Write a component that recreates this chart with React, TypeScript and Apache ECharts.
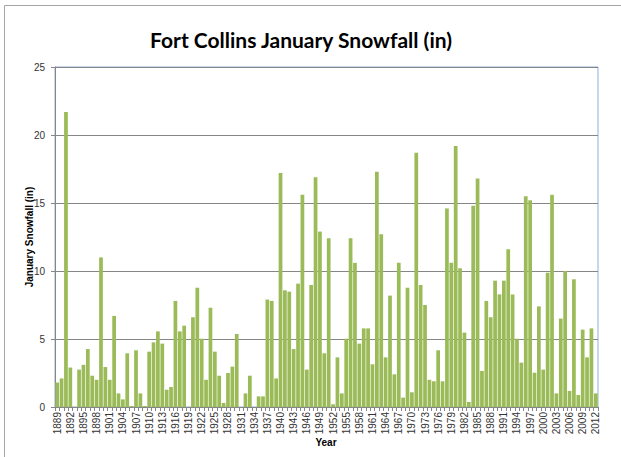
import React, { useEffect, useRef } from "react";
import * as echarts from "echarts";

const years: string[] = [];
for (let y = 1889; y <= 2012; y++) years.push(String(y));

const snowfall = [
  1.8, 2.1, 21.7, 2.9, 0, 2.75, 3.1, 4.26, 2.3, 2.0,
  11.0, 2.94, 2.0, 6.7, 1.0, 0.56, 3.95, 0.07, 4.17, 1.0,
  0.07, 4.07, 4.75, 5.56, 4.66, 1.27, 1.47, 7.8, 5.56, 5.98,
  0, 6.6, 8.77, 5.02, 2.0, 7.3, 4.07, 2.3, 0.3, 2.5,
  2.97, 5.37, 0, 1.0, 2.3, 0, 0.78, 0.78, 7.9, 7.8,
  2.1, 17.2, 8.58, 8.48, 4.26, 9.07, 15.6, 2.75, 8.97, 16.9,
  12.9, 3.95, 12.4, 0.2, 3.65, 1.0, 5.02, 12.4, 10.6, 4.66,
  5.78, 5.78, 3.14, 17.3, 12.7, 3.65, 8.19, 2.4, 10.6, 0.69,
  8.77, 1.08, 18.7, 8.97, 7.5, 2.0, 1.89, 4.17, 1.89, 14.6,
  10.6, 19.2, 10.2, 5.47, 0.37, 14.8, 16.8, 2.65, 7.8, 6.6,
  9.29, 8.28, 9.29, 11.6, 8.28, 5.02, 3.26, 15.5, 15.2, 2.52,
  7.4, 2.75, 9.88, 15.6, 1.0, 6.5, 10.0, 1.18, 9.39, 0.88,
  5.69, 3.65, 5.78, 1.0,
];

const titleText = "Fort Collins January Snowfall (in)";
const yAxisName = "January Snowfall (in)";
const xAxisName = "Year";

export default function App() {
  const ref = useRef<HTMLDivElement>(null);
  useEffect(() => {
    if (!ref.current) return;
    const chart = echarts.init(ref.current, null, { renderer: "svg" });
    chart.setOption({
      animation: false,
      backgroundColor: "#ffffff",
      title: {
        text: titleText,
        left: 296,
        top: 24,
        textAlign: "center",
        textStyle: {
          fontFamily: "Lato",
          fontWeight: "bold",
          fontSize: 21,
          color: "#000000",
        },
      },
      graphic: [
        {
          type: "line",
          shape: { x1: 4.5, y1: 5.5, x2: 621, y2: 5.5 },
          style: { stroke: "#a6a6a6", lineWidth: 1 },
        },
        {
          type: "line",
          shape: { x1: 4.5, y1: 5.5, x2: 4.5, y2: 457 },
          style: { stroke: "#a6a6a6", lineWidth: 1 },
        },
        {
          type: "text",
          x: 29,
          y: 237,
          rotation: Math.PI / 2,
          style: {
            text: yAxisName,
            fontFamily: "Liberation Sans",
            fontWeight: "bold",
            fontSize: 10,
            fill: "#000000",
            align: "center",
            verticalAlign: "middle",
          },
        },
        {
          type: "text",
          x: 326,
          y: 442,
          style: {
            text: xAxisName,
            fontFamily: "Liberation Sans",
            fontWeight: "bold",
            fontSize: 10,
            fill: "#000000",
            align: "center",
            verticalAlign: "middle",
          },
        },
      ],
      grid: {
        left: 55,
        right: 23,
        top: 67,
        bottom: 50,
        show: true,
        borderColor: "#8fb0dd",
        borderWidth: 1,
      },
      xAxis: {
        type: "category",
        data: years,
        axisLine: { lineStyle: { color: "#868686" } },
        axisTick: {
          show: true,
          interval: 0,
          length: 4,
          lineStyle: { color: "#868686" },
        },
        axisLabel: {
          interval: 2,
          rotate: 90,
          fontSize: 10,
          fontFamily: "Liberation Sans",
          color: "#333333",
          margin: 5,
        },
      },
      yAxis: {
        type: "value",
        min: 0,
        max: 25,
        interval: 5,
        axisLine: { show: true, lineStyle: { color: "#868686" } },
        axisTick: { show: true, length: 4, lineStyle: { color: "#868686" } },
        splitLine: { lineStyle: { color: "#868686", width: 1 } },
        axisLabel: {
          fontSize: 10,
          fontFamily: "Liberation Sans",
          color: "#333333",
          margin: 10,
        },
      },
      series: [
        {
          type: "bar",
          data: snowfall,
          barCategoryGap: "15%",
          itemStyle: { color: "#9bbb59" },
        },
      ],
    });
    return () => chart.dispose();
  }, []);
  return <div ref={ref} style={{ width: 621, height: 457, position: "absolute", left: 0, top: 0 }} />;
}
